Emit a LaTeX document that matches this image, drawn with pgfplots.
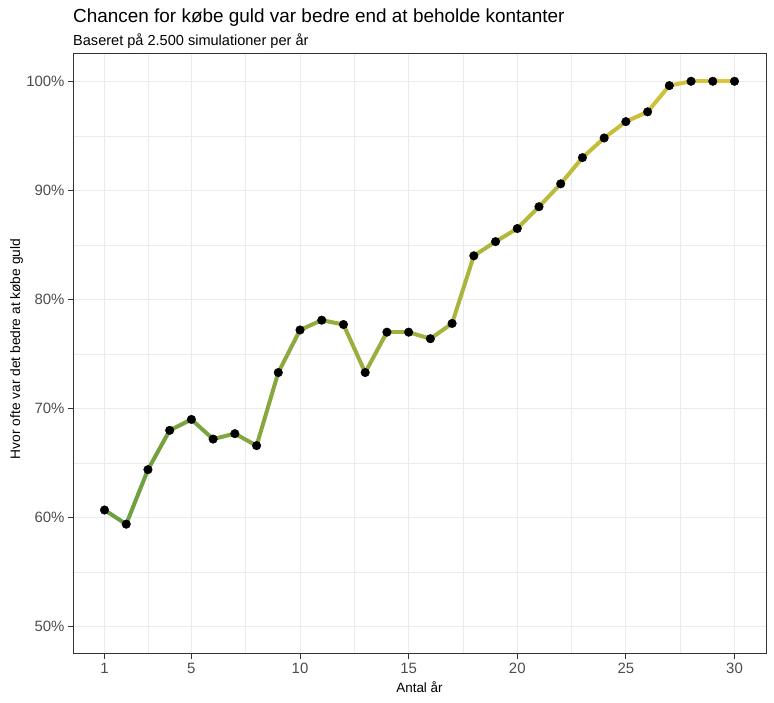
\documentclass[border=0pt]{standalone}
\usepackage{pgfplots}
\pgfplotsset{compat=1.18}
\usepackage{pgfplotstable}
\usepackage{fontspec}
\setmainfont{Liberation Sans}
\definecolor{gridc}{HTML}{EBEBEB}
\definecolor{framec}{HTML}{333333}
\definecolor{tickc}{HTML}{4D4D4D}
\pgfplotstableread{
x y
1 60.7
2 59.4
3 64.4
4 68.0
5 69.0
6 67.2
7 67.7
8 66.6
9 73.3
10 77.2
11 78.1
12 77.7
13 73.3
14 77.0
15 77.0
16 76.4
17 77.8
18 84.0
19 85.3
20 86.5
21 88.5
22 90.6
23 93.0
24 94.8
25 96.3
26 97.2
27 99.6
28 100.0
29 100.0
30 100.0
}\datatab
\begin{document}
\begin{tikzpicture}[x=1bp,y=1bp]
\path[use as bounding box] (0,0) rectangle (774,703);
\begin{axis}[
  at={(73bp,49bp)}, anchor=south west,
  scale only axis, width=693bp, height=600bp,
  xmin=-0.45, xmax=31.45, ymin=47.5, ymax=102.5,
  xtick={1,5,10,15,20,25,30},
  minor xtick={3,7.5,12.5,17.5,22.5,27.5},
  ytick={50,60,70,80,90,100},
  minor ytick={55,65,75,85,95},
  yticklabel={\pgfmathprintnumber{\tick}\%},
  /pgf/number format/assume math mode=true,
  grid=both,
  major grid style={gridc, line width=1bp},
  minor grid style={gridc, line width=0.6bp},
  axis line style={framec, line width=1bp},
  tick align=outside,
  major tick length=5bp, minor tick length=0pt,
  tick style={framec, line width=1bp},
  xtick pos=bottom, ytick pos=left,
  ticklabel style={font=\fontsize{15}{18}\selectfont, text=tickc},
  xticklabel style={yshift=-1bp},
  colormap={gold}{rgb255(0cm)=(106,158,64); rgb255(1cm)=(220,198,58)},
  point meta min=1, point meta max=30,
  clip=false,
]
\addplot[mesh, point meta=x, line width=4bp, line cap=round, line join=round] table[x=x,y=y] {\datatab};
\addplot[only marks, mark=*, mark size=4.3bp, black, mark options={fill=black}] table[x=x,y=y] {\datatab};
\end{axis}
\node[anchor=base west, inner sep=0] at (73,680) {\fontsize{19}{22}\selectfont Chancen for købe guld var bedre end at beholde kontanter};
\node[anchor=base west, inner sep=0] at (73,657) {\fontsize{14.6}{17}\selectfont Baseret på 2.500 simulationer per år};
\node[anchor=base, inner sep=0] at (419.5,10) {\fontsize{13.5}{16}\selectfont Antal år};
\node[anchor=base, rotate=90, inner sep=0] at (20,354) {\fontsize{13.8}{16}\selectfont Hvor ofte var det bedre at købe guld};
\end{tikzpicture}
\end{document}
